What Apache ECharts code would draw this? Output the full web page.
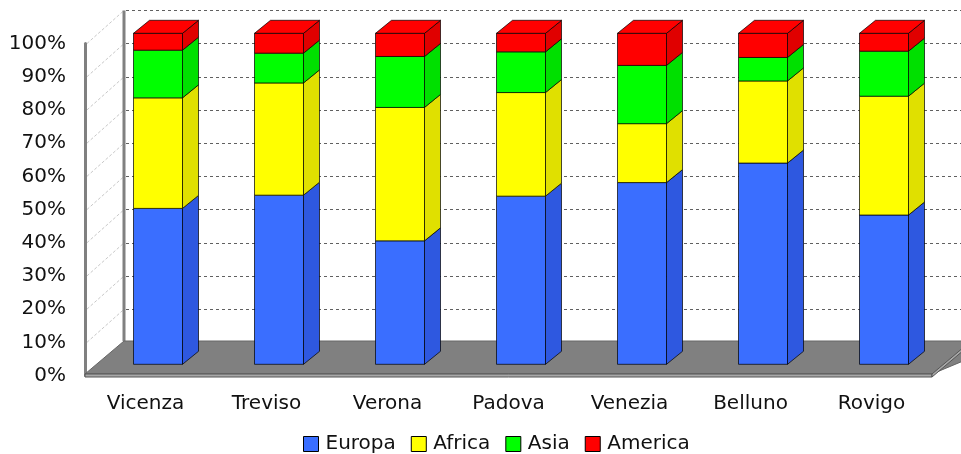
<!DOCTYPE html>
<html>
<head>
<meta charset="utf-8">
<script src="https://cdn.jsdelivr.net/npm/echarts/dist/echarts.min.js"></script>
<style>html,body{margin:0;padding:0;background:#fff}#c{width:961px;height:454px}</style>
</head>
<body>
<div id="c"></div>
<script>
// ---- data ----
const categories = ['Vicenza', 'Treviso', 'Verona', 'Padova', 'Venezia', 'Belluno', 'Rovigo'];
const seriesNames = ['Europa', 'Africa', 'Asia', 'America'];
const europa  = [47.1, 51.1, 37.3, 50.8, 54.9, 60.8, 45.1];
const africa  = [33.4, 33.9, 40.3, 31.3, 17.8, 24.8, 35.9];
const asia    = [14.4,  9.0, 15.4, 12.3, 17.6,  7.1, 13.6];
const america = [ 5.1,  6.0,  7.0,  5.6,  9.7,  7.3,  5.4];
const yTickValues = [0, 10, 20, 30, 40, 50, 60, 70, 80, 90, 100];
const yTickSuffix = '%';

// ---- styling ----
const FRONT = ['#3a6eff', '#ffff00', '#00ff00', '#ff0000'];
const SIDE  = ['#2e58e0', '#e0e000', '#00e000', '#e00000'];
const EDGE = 'rgba(0,0,0,0.7)';
const BAR_DX = 16, BAR_DY = -13;      // bar depth
const WALL_DX = 39, WALL_DY = -33;    // scene depth
const BAR_FRAC = 0.405;
const FONT = 'DejaVu Sans';
const FS = 20;

const valueLists = [europa, africa, asia, america];
const cum = categories.map(() => 0);
const stackedData = valueLists.map(vals => vals.map((v, i) => {
  const lo = cum[i]; cum[i] += v; return [i, lo, cum[i]];
}));

function barRenderer(si) {
  return function (params, api) {
    const cat = api.value(0), lo = api.value(1), hi = api.value(2);
    const pLo = api.coord([cat, lo]), pHi = api.coord([cat, hi]);
    const w = api.size([1, 0])[0] * BAR_FRAC;
    const x0 = Math.round(pLo[0] - w / 2) + 0.5, x1 = x0 + Math.round(w);
    const yB = pLo[1], yT = pHi[1];
    const ch = [
      {type: 'rect', shape: {x: x0, y: yT, width: x1 - x0, height: yB - yT},
       style: {fill: FRONT[si], stroke: EDGE, lineWidth: 1}},
      {type: 'polygon', shape: {points: [[x1, yB], [x1 + BAR_DX, yB + BAR_DY], [x1 + BAR_DX, yT + BAR_DY], [x1, yT]]},
       style: {fill: SIDE[si], stroke: EDGE, lineWidth: 1}}
    ];
    if (si === valueLists.length - 1) {
      ch.push({type: 'polygon', shape: {points: [[x0, yT], [x0 + BAR_DX, yT + BAR_DY], [x1 + BAR_DX, yT + BAR_DY], [x1, yT]]},
        style: {fill: FRONT[si], stroke: EDGE, lineWidth: 1}});
    }
    return {type: 'group', children: ch};
  };
}

function sceneRenderer(params, api) {
  const n = categories.length;
  const band = api.size([1, 0])[0];
  const p0 = api.coord([0, 0]);
  const pN = api.coord([n - 1, 0]);
  const xL = p0[0] - band / 2, xR = pN[0] + band / 2;
  const yF = p0[1] - 1.5;
  const T = 3;
  const ch = [];
  // left wall guide lines
  yTickValues.forEach(v => {
    if (v === 0) return;
    const y = api.coord([0, v])[1];
    ch.push({type: 'line', shape: {x1: xL + 2, y1: y, x2: xL + WALL_DX, y2: y + WALL_DY},
      style: {stroke: '#c8c8c8', lineWidth: 1, lineDash: [3, 2]}});
  });
  // back wall left edge
  const yTop = api.coord([0, 100])[1];
  ch.push({type: 'line', shape: {x1: xL + WALL_DX, y1: yTop + WALL_DY, x2: xL + WALL_DX, y2: yF + WALL_DY},
    style: {stroke: '#808080', lineWidth: 3}});
  // floor top
  ch.push({type: 'polygon', shape: {points: [[xL, yF], [xL + WALL_DX, yF + WALL_DY], [xR + WALL_DX + 40, yF + WALL_DY], [xR, yF]]},
    style: {fill: '#808080', stroke: '#666', lineWidth: 1}});
  // floor slab front
  ch.push({type: 'rect', shape: {x: xL, y: yF, width: xR - xL, height: T},
    style: {fill: '#a8a8a8', stroke: '#555', lineWidth: 1}});
  // floor slab right side
  ch.push({type: 'polygon', shape: {points: [[xR, yF], [xR + WALL_DX, yF + WALL_DY], [xR + WALL_DX, yF + WALL_DY + T], [xR, yF + T]]},
    style: {fill: '#a8a8a8', stroke: '#555', lineWidth: 1}});
  return {type: 'group', children: ch};
}

const chart = echarts.init(document.getElementById('c'), null, {renderer: 'canvas'});
const series = [{
  type: 'custom', name: '__scene', coordinateSystem: 'cartesian2d',
  xAxisIndex: 0, yAxisIndex: 0, z: 1, silent: true,
  renderItem: sceneRenderer, data: [[0, 0]]
}];
seriesNames.forEach((nm, si) => {
  series.push({
    type: 'custom', name: nm, coordinateSystem: 'cartesian2d',
    xAxisIndex: 1, yAxisIndex: 1, z: 2,
    itemStyle: {color: FRONT[si], borderColor: '#000', borderWidth: 1},
    encode: {x: 0, y: [1, 2]},
    renderItem: barRenderer(si), data: stackedData[si]
  });
});

chart.setOption({
  animation: false,
  backgroundColor: '#fff',
  grid: [
    {left: 85, right: 29, top: 43.5, bottom: 78.5},      // front plane (axes labels)
    {left: 97, right: 17, top: 33.3, bottom: 89.7},      // bar plane
    {left: 126, right: 0, top: 10.5, bottom: 111.5}      // back wall
  ],
  xAxis: [
    {gridIndex: 0, type: 'category', data: categories,
     axisLine: {show: false}, axisTick: {show: false},
     axisLabel: {fontFamily: FONT, fontSize: FS, color: '#111', margin: 18}},
    {gridIndex: 1, type: 'category', data: categories, show: false},
    {gridIndex: 2, type: 'category', data: categories, show: false}
  ],
  yAxis: [
    {gridIndex: 0, type: 'value', min: 0, max: 100, interval: 10,
     axisLine: {show: true, lineStyle: {color: '#808080', width: 3}},
     axisTick: {show: false}, splitLine: {show: false},
     axisLabel: {fontFamily: FONT, fontSize: FS, color: '#111', margin: 19,
                 formatter: v => v + yTickSuffix}},
    {gridIndex: 1, type: 'value', min: 0, max: 100, show: false, splitLine: {show: false}},
    {gridIndex: 2, type: 'value', min: 0, max: 100, interval: 10,
     axisLine: {show: false}, axisTick: {show: false}, axisLabel: {show: false},
     splitLine: {show: true, lineStyle: {color: '#606060', width: 1, type: [3, 3]}}}
  ],
  legend: {
    data: seriesNames, left: 303, top: 434, padding: 0, icon: 'rect',
    itemWidth: 15, itemHeight: 15, itemGap: 15,
    itemStyle: {borderColor: '#000', borderWidth: 1},
    textStyle: {fontFamily: FONT, fontSize: FS, color: '#111', padding: [0, 0, 0, 2]}
  },
  series: series
});
</script>
</body>
</html>
